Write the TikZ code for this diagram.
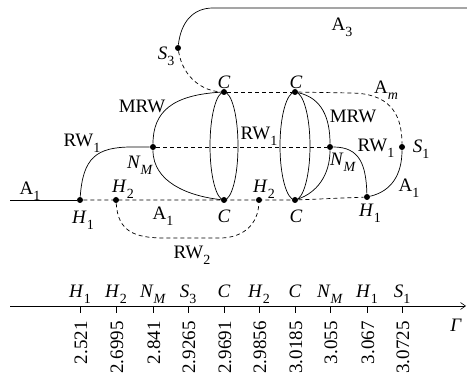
\documentclass[tikz,border=0pt]{standalone}
\usepackage{fontspec}
\setmainfont{Liberation Serif}
\usetikzlibrary{arrows.meta,calc}
\newcommand{\sbs}[1]{\raisebox{-0.3em}{\fontsize{14}{14}\selectfont #1}}
\tikzset{
  dot/.style={circle, fill, inner sep=0pt, minimum size=6pt},
  dline/.style={dash pattern=on 4pt off 3pt},
  lab/.style={font=\fontsize{19}{22}\selectfont, inner sep=0pt}
}

\begin{document}
\begin{tikzpicture}[x=1pt, y=-1pt, line width=0.7pt]
  \useasboundingbox (0,0) rectangle (467,382);

  % Points
  \node[dot] (H1a) at (80,200) {};
  \node[dot] (H2a) at (116,200) {};
  \node[dot] (NMa) at (153,147) {};
  \node[dot] (S3) at (178,48) {};
  \node[dot] (Ca) at (224,92) {};
  \node[dot] (Cb) at (224,200) {};
  \node[dot] (H2b) at (259,200) {};
  \node[dot] (Cc) at (295,92) {};
  \node[dot] (Cd) at (295,200) {};
  \node[dot] (NMb) at (330,147) {};
  \node[dot] (H1b) at (367,197) {};
  \node[dot] (S1) at (402,147) {};
  \coordinate (A1end) at (10,200);
  \coordinate (A3end) at (467,8);

  % Solid branches
  \draw (A1end) -- (H1a);
  \draw (H1a) .. controls (83,158) and (96,147) .. (132,147) -- (NMa);
  \draw (Ca) .. controls (172,95) and (153,112) .. (NMa);
  \draw (NMa) .. controls (153,182) and (188,196) .. (Cb);
  \draw ($(Ca)!0.5!(Cb)$) ellipse [x radius=14pt, y radius=54pt];
  \draw ($(Cc)!0.5!(Cd)$) ellipse [x radius=15pt, y radius=54pt];
  \draw (Cc) .. controls (322,98) and (330,118) .. (NMb);
  \draw (Cd) .. controls (316,193) and (330,176) .. (NMb);
  \draw (NMb) .. controls (360,147) and (366,165) .. (H1b);
  \draw (H1b) .. controls (392,191) and (402,174) .. (S1);
  \draw (S3) .. controls (181,22) and (193,8) .. (213,8) -- (A3end);

  % Dashed branches
  \draw[dline] (S3) .. controls (183,78) and (203,91) .. (Ca);
  \draw[dline] (Ca) -- (Cc);
  \draw[dline] (Cc) -- (350,93) .. controls (388,93) and (402,112) .. (S1);
  \draw[dline] (NMa) -- (NMb);
  \draw[dline] (H1a) -- (Cd) -- (H1b);
  \draw[dline] (H2a) .. controls (118,232) and (135,238) .. (165,238)
    -- (222,238) .. controls (244,237) and (258,224) .. (H2b);

  % Labels
  \node[lab] (lA3) at (342,27) {A\sbs{3}};
  \node[lab] (lAm) at (386,90) {A\sbs{\textit{m}}};
  \node[lab] (lS3) at (166,56) {\textit{S}\sbs{3}};
  \node[lab] (lCa) at (224,82) {\textit{C}};
  \node[lab] (lCc) at (296,82) {\textit{C}};
  \node[lab] (lMRWa) at (142,106) {MRW};
  \node[lab] (lMRWb) at (353,116) {MRW};
  \node[lab] (lRWa) at (82,143) {RW\sbs{1}};
  \node[lab] (lRWb) at (259,136) {RW\sbs{1}};
  \node[lab] (lRWc) at (376,148) {RW\sbs{1}};
  \node[lab] (lS1) at (421,149) {\textit{S}\sbs{1}};
  \node[lab] (lNMa) at (140,165) {\textit{N}\sbs{\textit{M}}};
  \node[lab] (lNMb) at (343,162) {\textit{N}\sbs{\textit{M}}};
  \node[lab] (lA1a) at (30,191) {A\sbs{1}};
  \node[lab] (lA1b) at (163,216) {A\sbs{1}};
  \node[lab] (lA1c) at (409,188) {A\sbs{1}};
  \node[lab] (lH2a) at (123,189) {\textit{H}\sbs{2}};
  \node[lab] (lH2b) at (264,189) {\textit{H}\sbs{2}};
  \node[lab] (lH1a) at (83,220) {\textit{H}\sbs{1}};
  \node[lab] (lH1b) at (370,213) {\textit{H}\sbs{1}};
  \node[lab] (lCb) at (224,216) {\textit{C}};
  \node[lab] (lCd) at (296,216) {\textit{C}};
  \node[lab] (lRW2) at (192,255) {RW\sbs{2}};

  % Axis
  \coordinate (ax0) at (10,306);
  \coordinate (ax1) at (466,306);
  \draw[-{Straight Barb[length=5pt,width=7pt]}, line width=0.6pt] (ax0) -- (ax1);
  \node[lab] (lGamma) at (456,325) {\textit{Γ}};
  \foreach \x/\lb/\v in {80/{\textit{H}\sbs{1}}/2.521, 116/{\textit{H}\sbs{2}}/2.6995,
      153/{\textit{N}\sbs{\textit{M}}}/2.841, 188/{\textit{S}\sbs{3}}/2.9265,
      224/{\textit{C}}/2.9691, 259/{\textit{H}\sbs{2}}/2.9856, 295/{\textit{C}}/3.0185,
      330/{\textit{N}\sbs{\textit{M}}}/3.055, 367/{\textit{H}\sbs{1}}/3.067, 402/{\textit{S}\sbs{1}}/3.0725}{
    \draw (\x,306) -- (\x,313);
    \node[lab, anchor=base] at (\x,298) {\lb};
    \node[lab, rotate=90, anchor=east] at (\x+1,321) {\v};
  }
\end{tikzpicture}
\end{document}
